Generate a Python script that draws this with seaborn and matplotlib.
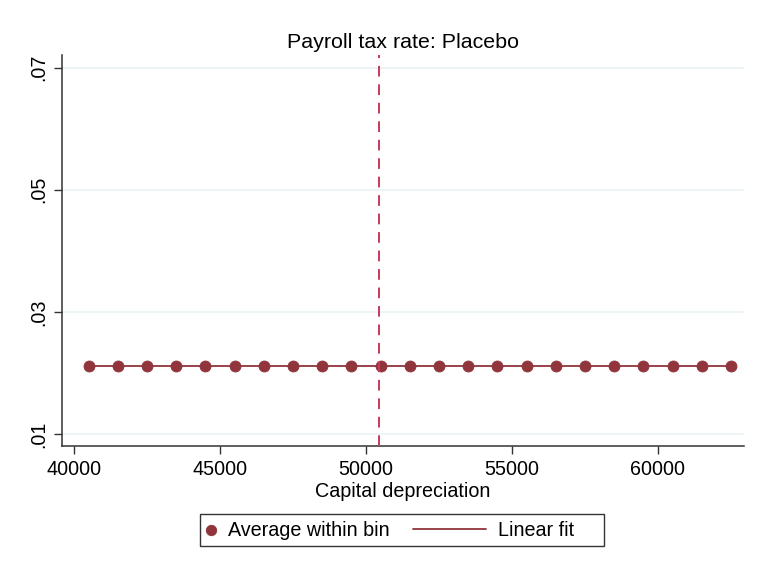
import matplotlib.pyplot as plt
import numpy as np
import seaborn as sns
import pandas as pd
from matplotlib.lines import Line2D
from matplotlib.patches import Rectangle
from matplotlib.legend_handler import HandlerLine2D

sns.set_style('white')
plt.rcParams['font.family'] = ['Liberation Sans', 'DejaVu Sans']
plt.rcParams['text.color'] = 'black'
plt.rcParams['axes.labelcolor'] = 'black'
plt.rcParams['xtick.color'] = '#333333'
plt.rcParams['ytick.color'] = '#333333'
plt.rcParams['xtick.labelcolor'] = 'black'
plt.rcParams['ytick.labelcolor'] = 'black'

# binned averages (capital depreciation bins) and linear fit
bin_x = [40500, 41500, 42500, 43500, 44500, 45500, 46500, 47500, 48500, 49500, 50500,
         51500, 52500, 53500, 54500, 55500, 56500, 57500, 58500, 59500, 60500, 61500, 62500]
bin_y = [0.0212] * 23
fit_y = [0.0212] * 23
threshold = 50450
y_ticks = [0.01, 0.03, 0.05, 0.07]
y_labels = ['.01', '.03', '.05', '.07']
x_ticks = [40000, 45000, 50000, 55000, 60000]

df = pd.DataFrame({'x': bin_x, 'avg': bin_y, 'fit': fit_y})


class LongLine(HandlerLine2D):
    # legend key for the fit line: stretch it to the left, Stata style
    def create_artists(self, legend, orig_handle, xdescent, ydescent, width, height, fontsize, trans):
        ext = 3.25 * fontsize
        y = height / 2 - ydescent
        line = Line2D([-xdescent - ext, -xdescent + width], [y, y])
        self.update_prop(line, orig_handle, legend)
        line.set_marker('')
        line.set_transform(trans)
        return [line]


maroon = '#90353B'
fs = 14.2
fig = plt.figure(figsize=(7.59, 5.71), dpi=100)
ax = fig.add_axes([0.0817, 0.219, 0.8983, 0.685])

for yt in y_ticks:
    ax.axhline(yt, color='#EAF2F3', linewidth=1.2, zorder=0)

sns.lineplot(data=df, x='x', y='fit', color=maroon, linewidth=1.3, ax=ax,
             label='Linear fit', zorder=2)
sns.scatterplot(data=df, x='x', y='avg', color=maroon, s=62, edgecolor=maroon,
                ax=ax, label='Average within bin', zorder=3)
ax.axvline(threshold, color='#C8385A', linestyle=(0, (5.5, 4)), linewidth=1.4, zorder=4)

ax.set_xlim(39590, 62940)
ax.set_ylim(0.00803, 0.0721)
ax.set_xticks(x_ticks)
ax.set_yticks(y_ticks)
ax.set_yticklabels(y_labels, rotation=90, va='center')
ax.tick_params(axis='both', bottom=True, left=True, labelsize=fs, length=6, width=1,
               direction='out')
ax.tick_params(axis='y', pad=4)
ax.tick_params(axis='x', pad=4)

for s in ['top', 'right']:
    ax.spines[s].set_visible(False)
for s in ['left', 'bottom']:
    ax.spines[s].set_color('#333333')
    ax.spines[s].set_linewidth(1.1)

ax.set_xlabel('Capital depreciation', fontsize=fs, labelpad=2, color='black')
ax.set_ylabel('')
ax.set_title('Payroll tax rate: Placebo', fontsize=15.4, pad=5, color='black')

handles, labels = ax.get_legend_handles_labels()
order = [labels.index('Average within bin'), labels.index('Linear fit')]
leg = ax.legend([handles[i] for i in order], [labels[i] for i in order],
                loc='center left', bbox_to_anchor=(207 / 759, 1 - 530 / 571),
                bbox_transform=fig.transFigure, ncol=2, fontsize=fs, frameon=False,
                handlelength=0.45, columnspacing=4.45, handletextpad=0.6,
                borderpad=0, borderaxespad=0, markerscale=0.95,
                handler_map={Line2D: LongLine()})
fig.patches.append(Rectangle((200 / 759, 1 - 546 / 571), 404 / 759, 32 / 571,
                             transform=fig.transFigure, fill=False,
                             edgecolor='#333333', linewidth=1.0))

fig.savefig('out.png', dpi=100)
